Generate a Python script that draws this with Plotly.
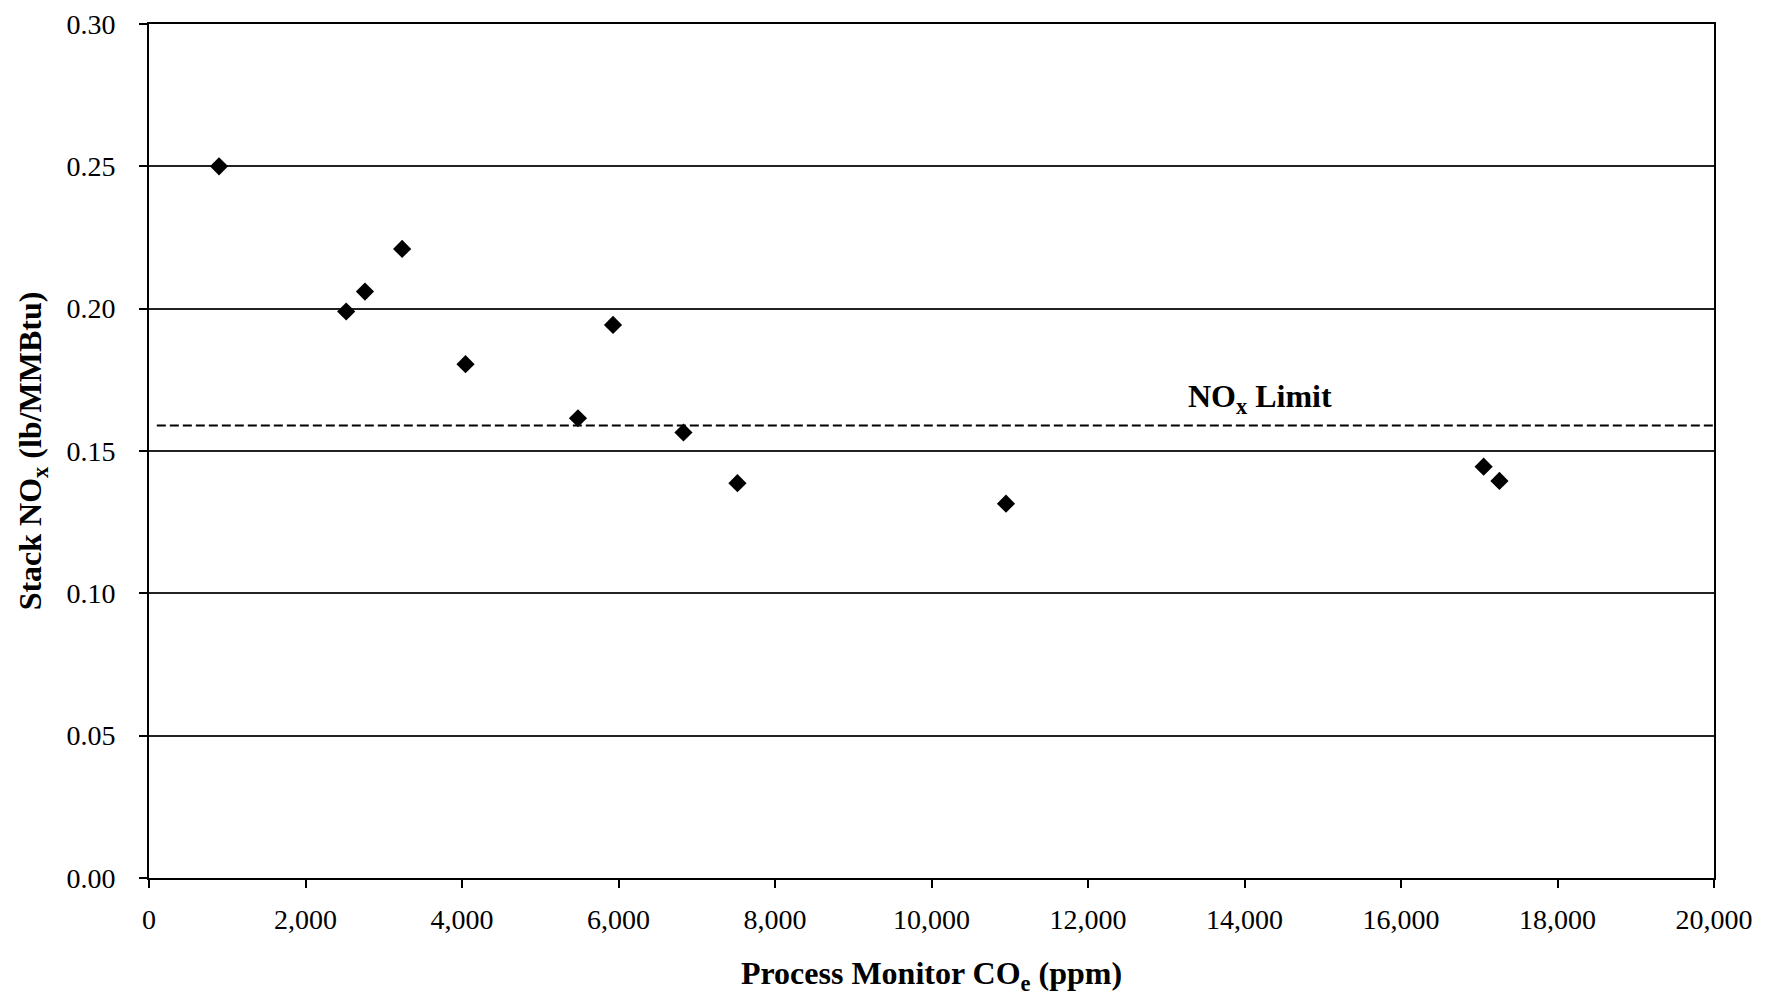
import plotly.graph_objects as go

# Data
co_ppm = [895, 2520, 2760, 3235, 4045, 5482, 5930, 6830, 7520, 10952, 17056, 17258]
nox = [0.250, 0.199, 0.206, 0.221, 0.1805, 0.1615, 0.1943, 0.1565, 0.1387, 0.1315, 0.1445, 0.1395]

limit_x = [100, 20000]
limit_value = 0.159

x_ticks = [0, 2000, 4000, 6000, 8000, 10000, 12000, 14000, 16000, 18000, 20000]
y_ticks = [0.00, 0.05, 0.10, 0.15, 0.20, 0.25, 0.30]

FONT = "Liberation Serif, Times New Roman, serif"

fig = go.Figure()

fig.add_trace(go.Scatter(
    x=limit_x, y=[limit_value] * len(limit_x),
    mode="lines",
    line=dict(color="black", width=2, dash="9px,4px"),
    showlegend=False, hoverinfo="skip",
))

fig.add_trace(go.Scatter(
    x=co_ppm, y=nox,
    mode="markers",
    marker=dict(symbol="diamond", size=14, color="black", line=dict(width=0)),
    showlegend=False,
))

fig.add_annotation(
    x=14200, y=0.1686, xref="x", yref="y",
    text="<b>NO<sub>x</sub> Limit</b>",
    showarrow=False,
    font=dict(family=FONT, size=32, color="black"),
)

fig.update_layout(
    width=1762, height=988,
    margin=dict(l=141, r=56, t=16, b=118),
    paper_bgcolor="white", plot_bgcolor="white",
    font=dict(family=FONT, color="black"),
    xaxis=dict(
        range=[0, 20000],
        tickvals=x_ticks,
        tickformat=",d",
        automargin=False,
        ticklabeloverflow="allow",
        ticks="outside", ticklen=8, tickwidth=1.5, tickcolor="black",
        showline=True, linecolor="black", linewidth=2, mirror=True,
        showgrid=False, zeroline=False,
        tickfont=dict(family=FONT, size=28, color="black"),
        ticklabelstandoff=7,
        title=dict(text="<b>Process Monitor CO<sub>e</sub> (ppm)</b>",
                   font=dict(family=FONT, size=32, color="black"),
                   standoff=29),
    ),
    yaxis=dict(
        range=[0, 0.30],
        tickvals=y_ticks,
        tickformat=".2f",
        automargin=False,
        ticklabeloverflow="allow",
        ticks="outside", ticklen=8, tickwidth=1.5, tickcolor="black",
        showline=True, linecolor="black", linewidth=2, mirror=True,
        showgrid=True, gridcolor="#222222", gridwidth=1.5,
        zeroline=False,
        tickfont=dict(family=FONT, size=28, color="black"),
        ticklabelstandoff=18,
        title=dict(text="<b>Stack NO<sub>x</sub> (lb/MMBtu)</b>",
                   font=dict(family=FONT, size=32, color="black"),
                   standoff=15),
    ),
)

fig.write_html("out.html")
